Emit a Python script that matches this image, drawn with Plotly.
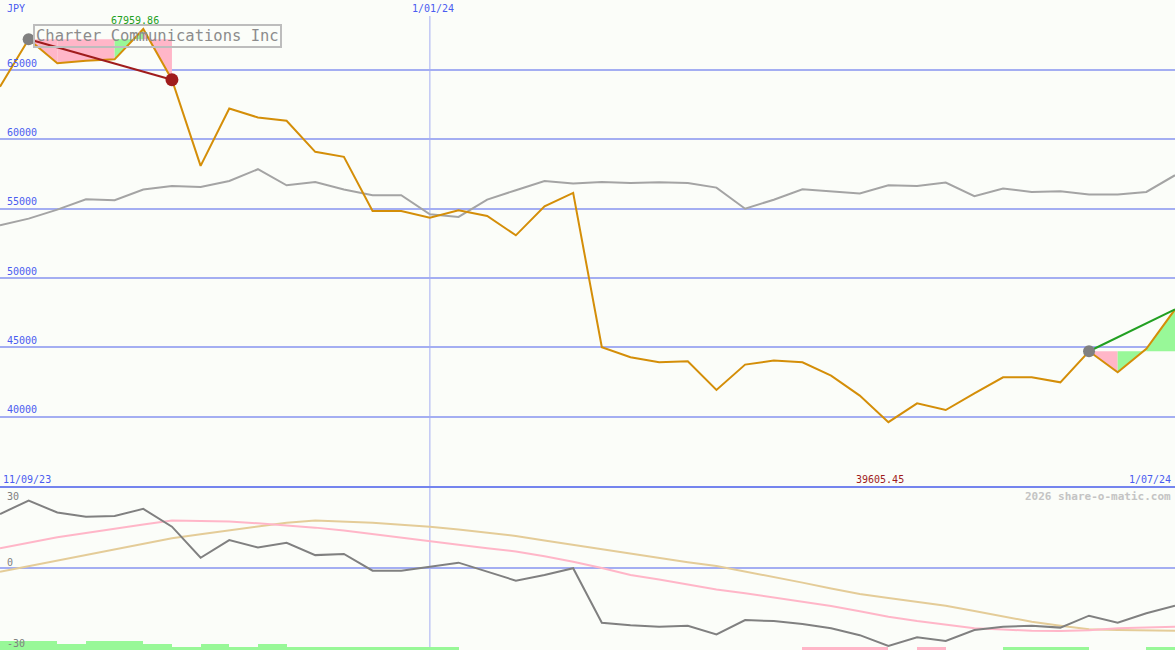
import plotly.graph_objects as go

# ---------------- data ----------------
n_points = 42
idx = list(range(n_points))
price = [63794, 67218, 65484, 65672, 65770, 67959.86, 64300, 58086, 62230, 61580,
         61340, 59100, 58740, 54834, 54834, 54357, 54885, 54475, 53079, 55174,
         56137, 45010, 44287, 43926, 43998, 41930, 43758, 44047, 43926, 42964,
         41519, 39605.45, 40962, 40480, 41677, 42841, 42841, 42480, 44720, 43203,
         44890, 47733]
index_cmp = [53801, 54286, 54935, 55680, 55608, 56380, 56640, 56570, 57000, 57847,
             56690, 56930, 56380, 55970, 55970, 54596, 54403, 55656, 56330, 57000,
             56810, 56930, 56860, 56900, 56860, 56520, 55000, 55650, 56400, 56260,
             56090, 56690, 56640, 56880, 55900, 56450, 56210, 56260, 56020, 56020,
             56210, 57414]
momentum = [22.2, 27.7, 22.8, 21.1, 21.4, 24.3, 17.0, 4.2, 11.5, 8.4, 10.4, 5.3,
            5.8, -1.1, -1.1, 0.5, 2.2, -1.5, -5.2, -2.9, -0.1, -22.5, -23.5, -24.1,
            -23.7, -27.3, -21.4, -21.8, -23.0, -24.8, -27.6, -32.0, -28.5, -30.0,
            -25.5, -24.1, -23.7, -24.5, -19.6, -22.5, -18.6, -15.5]
fast_avg = [8.1, 10.3, 12.6, 14.4, 16.3, 17.9, 19.5, 19.3, 19.1, 18.4, 17.6, 16.6,
            15.4, 14.0, 12.5, 10.9, 9.6, 8.1, 6.8, 4.8, 2.6, 0.0, -2.9, -4.7, -6.8,
            -8.8, -10.4, -12.2, -13.9, -15.6, -17.8, -20.0, -21.8, -23.4, -24.8,
            -25.3, -25.8, -25.9, -25.6, -24.8, -24.5, -24.1]
slow_avg = [-1.5, 0.8, 3.0, 5.3, 7.6, 9.9, 12.2, 13.9, 15.4, 17.0, 18.6, 19.5, 19.2,
            18.6, 17.8, 17.0, 15.8, 14.6, 13.2, 11.3, 9.5, 7.6, 5.8, 4.1, 2.4, 0.8,
            -1.4, -3.8, -6.0, -8.4, -10.7, -12.3, -13.9, -15.5, -17.7, -19.9, -22.1,
            -23.7, -25.2, -25.5, -25.7, -25.8]
# signal strength per interval (k -> k+1): + green, - pink
signal = [3, 3, 2, 3, 3, 2, 1, 2, 1, 2, 1, 1, 1, 1, 1, 1, 0, 0, 0, 0, 0, 0, 0, 0,
          0, 0, 0, 0, -1, -1, -1, 0, -1, 0, 0, 1, 1, 1, 0, 0, 1]
trend_down = (1, 6)
trend_down_seg_up = [False, False, False, True, False]
trend_up = (38, 41)
trend_up_seg_up = [False, True, True]
price_ticks = [40000, 45000, 50000, 55000, 60000, 65000]
year_line_idx = 15
label_left, label_year, label_right = "11/09/23", "1/01/24", "1/07/24"
title = "Charter Communications Inc"
currency = "JPY"

# ---------------- style ----------------
BG = "#fbfdf9"
GRID = "#a4aef2"
SEP = "#7484ee"
BLUE_TXT = "#4a5cf0"
ORANGE = "#d48e08"
PINK = "#ffb6c8"
GREEN = "#98f898"
FONT = "DejaVu Sans Mono"
W, H = 1175, 650
split = (H - 487) / H

fig = go.Figure()


def add_shading(start, seg_up):
    base = price[start]
    for j, up in enumerate(seg_up):
        k = start + j
        fig.add_trace(go.Scatter(
            x=[k, k + 1, k + 1, k], y=[base, base, price[k + 1], price[k]],
            fill="toself", fillcolor=GREEN if up else PINK, mode="none",
            xaxis="x", yaxis="y", hoverinfo="skip"))


add_shading(trend_down[0], trend_down_seg_up)
add_shading(trend_up[0], trend_up_seg_up)

# comparison index
fig.add_trace(go.Scatter(x=idx, y=index_cmp, mode="lines",
                         line=dict(color="#a4a4a4", width=2), yaxis="y"))
# price
fig.add_trace(go.Scatter(x=idx, y=price, mode="lines",
                         line=dict(color=ORANGE, width=2), yaxis="y"))
# trend lines
a, b = trend_down
fig.add_trace(go.Scatter(x=[a, b], y=[price[a], price[b]], mode="lines",
                         line=dict(color="#a01c1c", width=2), yaxis="y"))
fig.add_trace(go.Scatter(x=[a], y=[price[a]], mode="markers",
                         marker=dict(color="#808080", size=12), yaxis="y"))
fig.add_trace(go.Scatter(x=[b], y=[price[b]], mode="markers",
                         marker=dict(color="#a01c1c", size=13), yaxis="y"))
a, b = trend_up
fig.add_trace(go.Scatter(x=[a, b], y=[price[a], price[b]], mode="lines",
                         line=dict(color="#22a022", width=2), yaxis="y"))
fig.add_trace(go.Scatter(x=[a], y=[price[a]], mode="markers",
                         marker=dict(color="#808080", size=12), yaxis="y"))

# lower panel
fig.add_trace(go.Scatter(x=idx, y=slow_avg, mode="lines",
                         line=dict(color="#e4cc98", width=2), yaxis="y2"))
fig.add_trace(go.Scatter(x=idx, y=fast_avg, mode="lines",
                         line=dict(color=PINK, width=2), yaxis="y2"))
fig.add_trace(go.Scatter(x=idx, y=momentum, mode="lines",
                         line=dict(color="#808080", width=2), yaxis="y2"))
fig.add_trace(go.Bar(x=[k + 0.5 for k in range(len(signal))],
                     y=[abs(s) for s in signal], width=1.0,
                     marker=dict(color=[GREEN if s > 0 else PINK for s in signal],
                                 line=dict(width=0)),
                     yaxis="y3"))

fig.update_layout(
    width=W, height=H, margin=dict(l=0, r=0, t=0, b=0),
    paper_bgcolor=BG, plot_bgcolor=BG, showlegend=False, bargap=0,
    xaxis=dict(range=[0, n_points - 1], showgrid=False, zeroline=False,
               showticklabels=False, anchor="y2"),
    yaxis=dict(domain=[split, 1], range=[34930, 70050], tickvals=price_ticks,
               tickformat="d", ticklabelstandoff=4,
               showgrid=True, gridcolor=GRID, gridwidth=2, zeroline=False,
               ticklabelposition="inside top", ticks="",
               tickfont=dict(family=FONT, size=10, color=BLUE_TXT)),
    yaxis2=dict(domain=[0, split], range=[-33.7, 33.3], showgrid=False,
                zeroline=True, zerolinecolor=GRID, zerolinewidth=2,
                showticklabels=False),
    yaxis3=dict(overlaying="y2", range=[0, 163 / 3], showgrid=False,
                zeroline=False, showticklabels=False),
    shapes=[
        dict(type="line", xref="x", yref="paper", x0=year_line_idx, x1=year_line_idx,
             y0=0, y1=1 - 16 / H, line=dict(color=GRID, width=1), layer="below"),
        dict(type="line", xref="paper", yref="paper", x0=0, x1=1, y0=split, y1=split,
             line=dict(color=SEP, width=2)),
    ],
)


def txt(text, x, y, color, size=10, xanchor="left", xref="paper", yref="paper",
        xshift=0, yshift=0, bold=False, border=None):
    d = dict(text=f"<b>{text}</b>" if bold else text, x=x, y=y, xref=xref, yref=yref,
             xanchor=xanchor, yanchor="middle", showarrow=False, xshift=xshift,
             yshift=yshift, font=dict(family=FONT, size=size, color=color))
    if border:
        d.update(bordercolor=border, borderwidth=2, borderpad=1)
    fig.add_annotation(**d)


def py(px):
    return 1 - px / H


txt(currency, 5 / W, py(9), BLUE_TXT)
txt(label_year, year_line_idx, py(9), BLUE_TXT, xanchor="center", xref="x", xshift=3)
txt(label_left, 1 / W, py(479), BLUE_TXT)
txt(label_right, 1173 / W, py(479), BLUE_TXT, xanchor="right")
pk = price.index(max(price))
txt(f"{max(price):.2f}", pk, py(21), "#22a022", xanchor="center", xref="x", xshift=-8)
mn = price.index(min(price))
txt(f"{min(price):.2f}", mn, py(479), "#a01c1c", xanchor="center", xref="x", xshift=-8)
txt("2026 share-o-matic.com", 1173 / W, py(496), "#c4c4c4", size=11,
    xanchor="right", bold=True)
txt(title, 33 / W, py(36.5), "#8c8c8c", size=15.5, border="#bdbdbd")
txt("30", 5 / W, py(496), "#808080")
txt("0", 5 / W, py(562), "#808080")
txt("-30", 5 / W, py(643), "#808080")

fig.write_html("out.html", config={"displayModeBar": False},
               post_script="document.body.style.margin='0';document.body.style.overflow='hidden';")
